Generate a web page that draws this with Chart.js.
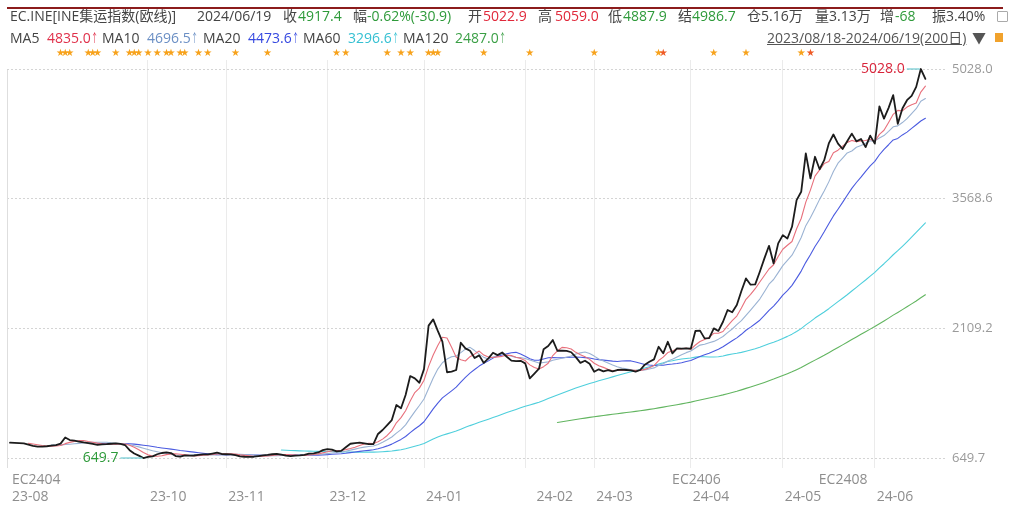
<!DOCTYPE html>
<html>
<head>
<meta charset="utf-8">
<script src="https://cdn.jsdelivr.net/npm/chart.js@4.4.1/dist/chart.umd.min.js"></script>
<style>
  body { margin: 0; background: #fff; }
  #wrap { position: relative; width: 1009px; height: 506px; overflow: hidden;
          font-family: "Open Sans", "Noto Sans CJK SC", sans-serif; }
  #wrap canvas { position: absolute; left: 0; top: 0; }
  .t { position: absolute; white-space: nowrap; font-size: 14px; line-height: 18px; color: #444; }
  .up { display: inline-block; width: 6px; font-size: 12px; transform: scaleX(0.6); transform-origin: 0 50%; }
  .topline { position: absolute; left: 7px; right: 6px; top: 7px; height: 2px; background: #8c1c1c; }
  .range { text-decoration: underline; color: #555; }
  .icon1 { position: absolute; left: 997px; top: 11px; width: 9px; height: 9px; border: 1px solid #aaa; border-radius: 1px; }
  .icon2 { position: absolute; left: 995px; top: 33px; width: 8px; height: 9px; background: #f1a22c; }
</style>
</head>
<body>
<div id="wrap">
  <canvas id="kline" width="1009" height="506"></canvas>
  <div class="topline"></div>
  <div id="hdr"></div>
  <div class="icon1"></div>
  <div class="icon2"></div>
</div>
<script>
// daily closes, 2023/08/18 - 2024/06/19 (200 trading days)
const closes = [
  822, 820, 818, 815, 800, 786, 777, 778, 782, 788,
  795, 812, 880, 852, 845, 835, 825, 818, 808, 798,
  802, 805, 810, 815, 808, 796, 738, 700, 676, 649.7,
  662, 668, 692, 706, 712, 705, 672, 664, 680, 676,
  678, 685, 690, 690, 700, 710, 695, 692, 690, 682,
  668, 664, 663, 664, 672, 680, 684, 692, 696, 688,
  676, 672, 676, 680, 686, 700, 702, 712, 738, 750,
  745, 725, 730, 770, 810, 818, 822, 815, 805, 806,
  920, 965, 1021, 1077, 1246, 1209, 1358, 1572, 1546, 1497,
  1650, 2140, 2210, 2080, 1960, 1615, 1621, 1640, 1947, 1884,
  1857, 1775, 1805, 1720, 1771, 1834, 1808, 1837, 1789, 1745,
  1740, 1744, 1715, 1546, 1600, 1655, 1873, 1910, 1977, 1857,
  1857, 1855, 1840, 1785, 1720, 1745, 1710, 1621, 1648, 1625,
  1640, 1625, 1640, 1645, 1640, 1635, 1621, 1640, 1700, 1733,
  1760, 1902, 1828, 1958, 1828, 1884, 1880, 1884, 1880, 2079,
  2083, 1996, 2000, 2109, 2080, 2183, 2315, 2290, 2371, 2530,
  2671, 2600, 2604, 2746, 2897, 3038, 2840, 3065, 3158, 3120,
  3252, 3552, 3646, 4078, 3796, 4040, 3900, 4002, 4190, 4291,
  4188, 4128, 4214, 4301, 4214, 4240, 4149, 4278, 4188, 4607,
  4470, 4591, 4734, 4411, 4584, 4676.6, 4726, 4827, 5028, 4917.4
];

const maPeriods = [5, 10, 20, 60, 120];
const maColors = ['#e8707c', '#9bb3d3', '#4b5be0', '#4fcfdc', '#62b560'];
const maTextColors = ['#e0304a', '#6b8fc4', '#3548e0', '#35c0d2', '#3a9f45'];

// first trading day of each month, and where its label sits
const monthStart = [0, 30, 47, 69, 90, 112, 127, 148, 168, 188];
const monthLabelDay = [0, 30, 47, 69, 90, 114, 127, 148, 168, 188];
const monthLabels = ['23-08', '23-10', '23-11', '23-12', '24-01', '24-02', '24-03', '24-04', '24-05', '24-06'];

const contractNames = ['EC2404', 'EC2406', 'EC2408'];
const contractDays = [0, 143.5, 175.4];

const priceTicks = [649.7, 2109.2, 3568.6, 5028.0];

// event markers above the plot
const starDays = [11, 12, 13, 17, 18, 19, 23, 26, 27, 28, 30, 32, 34, 35, 37, 38, 41, 43,
                  49, 56, 71, 73, 82, 85, 87, 91, 92, 93, 103, 113, 127, 141, 142, 153, 160, 172, 174];
const flagDays = [142, 174];

function movingAverage(values, n) {
  return values.map((v, i) => {
    if (i < n - 1) return null;
    let s = 0;
    for (let k = i - n + 1; k <= i; k++) s += values[k];
    return s / n;
  });
}

const days = closes.map((_, i) => i);
const maSeries = maPeriods.map(n => movingAverage(closes, n));
const last = a => a[a.length - 1];

// ---- header text ----
const GRAY = '#444', GREEN = '#2e9a3a', RED = '#e0283a';
const hdrItems = [
  ['EC.INE[INE集运指数(欧线)]', 10, 7, GRAY],
  ['2024/06/19', 197, 7, GRAY],
  ['收', 283, 7, GRAY], [last(closes).toFixed(1), 298, 7, GREEN],
  ['幅', 353, 7, GRAY], ['-0.62%(-30.9)', 367, 7, GREEN],
  ['开', 468, 7, GRAY], ['5022.9', 483, 7, RED],
  ['高', 538, 7, GRAY], ['5059.0', 555, 7, RED],
  ['低', 608, 7, GRAY], ['4887.9', 623, 7, GREEN],
  ['结', 678, 7, GRAY], ['4986.7', 692, 7, GREEN],
  ['仓5.16万', 747, 7, GRAY],
  ['量3.13万', 815, 7, GRAY],
  ['增', 880, 7, GRAY], ['-68', 895, 7, GREEN],
  ['振3.40%', 932, 7, GRAY],
  ['▼', 972, 28.5, '#555']
];
const maX = [[10, 47], [102, 147], [203, 248], [303, 348], [403, 455]];
maPeriods.forEach((n, k) => {
  hdrItems.push(['MA' + n, maX[k][0], 28.5, GRAY]);
  hdrItems.push([last(maSeries[k]).toFixed(1), maX[k][1], 28.5, maTextColors[k], true]);
});

const hdr = document.getElementById('hdr');
hdrItems.forEach(([text, x, y, color, rising]) => {
  const s = document.createElement('div');
  s.className = 't';
  s.textContent = text;
  if (rising) {
    const a = document.createElement('span');
    a.className = 'up';
    a.textContent = '↑';
    s.appendChild(a);
  }
  s.style.left = x + 'px';
  s.style.top = y + 'px';
  s.style.color = color;
  hdr.appendChild(s);
});
const range = document.createElement('div');
range.className = 't range';
range.textContent = '2023/08/18-2024/06/19(200日)';
range.style.left = '767px';
range.style.top = '28.5px';
hdr.appendChild(range);

// ---- chart ----
const datasets = [{
  label: '收',
  data: closes,
  borderColor: '#1c1c1c',
  borderWidth: 1.8
}].concat(maPeriods.map((n, k) => ({
  label: 'MA' + n,
  data: maSeries[k],
  borderColor: maColors[k],
  borderWidth: 1.1
})));

const marks = {
  id: 'marks',
  beforeDatasetsDraw(chart) {
    const {ctx, chartArea: a} = chart;
    ctx.save();
    ctx.strokeStyle = '#dedede';
    ctx.lineWidth = 1;
    ctx.beginPath();
    ctx.moveTo(a.left + 0.5, a.top + 10);
    ctx.lineTo(a.left + 0.5, a.bottom);
    ctx.stroke();
    ctx.restore();
  },
  afterDatasetsDraw(chart) {
    const {ctx, scales: {x, y}} = chart;
    ctx.save();
    ctx.font = '10px "DejaVu Sans"';
    ctx.textAlign = 'center';
    ctx.textBaseline = 'middle';
    starDays.forEach(d => {
      ctx.fillStyle = flagDays.includes(d) ? '#ee5a26' : '#f7a21b';
      ctx.fillText('★', x.getPixelForValue(d), 53);
    });

    // highest and lowest close
    const hi = closes.indexOf(Math.max(...closes));
    const lo = closes.indexOf(Math.min(...closes));
    ctx.font = '14px "Open Sans"';
    ctx.textAlign = 'right';
    ctx.lineWidth = 1.2;
    ctx.strokeStyle = '#6cc9d1';

    let px = x.getPixelForValue(hi), py = y.getPixelForValue(closes[hi]);
    ctx.fillStyle = '#d8243a';
    ctx.fillText(closes[hi].toFixed(1), px - 16, py);
    ctx.beginPath(); ctx.moveTo(px - 14, py); ctx.lineTo(px - 1, py); ctx.stroke();

    px = x.getPixelForValue(lo); py = y.getPixelForValue(closes[lo]);
    ctx.fillStyle = '#2e9a3a';
    ctx.fillText(closes[lo].toFixed(1), px - 25, py);
    ctx.beginPath(); ctx.moveTo(px - 23, py); ctx.lineTo(px - 1, py); ctx.stroke();
    ctx.restore();
  }
};

new Chart(document.getElementById('kline'), {
  type: 'line',
  data: { labels: days, datasets: datasets },
  options: {
    responsive: false,
    animation: false,
    devicePixelRatio: 1,
    layout: { padding: { left: 7, right: 13, top: 60, bottom: 0 } },
    elements: {
      point: { radius: 0 },
      line: { tension: 0, borderCapStyle: 'round', borderJoinStyle: 'round' }
    },
    plugins: { legend: { display: false }, tooltip: { enabled: false } },
    scales: {
      x: {
        type: 'linear',
        min: -0.652,
        max: 203.26,
        afterBuildTicks: scale => {
          const map = new Map();
          const at = v => {
            if (!map.has(v)) map.set(v, { value: v, top: '', bottom: '', grid: false });
            return map.get(v);
          };
          monthStart.forEach(d => { if (d > 0) at(d).grid = true; });
          monthLabelDay.forEach((d, k) => { at(d).bottom = monthLabels[k]; });
          contractDays.forEach((d, k) => { at(d).top = contractNames[k]; });
          scale.ticks = [...map.values()].sort((a, b) => a.value - b.value);
        },
        afterFit: scale => { scale.height = 38; },
        ticks: {
          autoSkip: false,
          maxRotation: 0,
          minRotation: 0,
          align: 'start',
          labelOffset: 2,
          padding: 4,
          color: '#8e8e8e',
          font: { family: '"Open Sans"', size: 14, lineHeight: 1.2 },
          callback: (v, i, ticks) => [ticks[i].top, ticks[i].bottom]
        },
        grid: {
          drawTicks: false,
          color: ctx => (ctx.tick && ctx.tick.grid ? '#ebebeb' : 'rgba(0,0,0,0)')
        },
        border: { display: false }
      },
      y: {
        position: 'right',
        min: 537.2,
        max: 5129.3,
        afterBuildTicks: scale => {
          scale.ticks = priceTicks.map(v => ({ value: v }));
        },
        afterFit: scale => { scale.width = 51; },
        ticks: {
          padding: 7,
          color: '#9a9a9a',
          font: { family: '"Open Sans"', size: 13 },
          callback: v => v.toFixed(1)
        },
        grid: { drawTicks: false, color: '#d4d4d4' },
        border: { display: false, dash: [2, 2] }
      }
    }
  },
  plugins: [marks]
});
</script>
</body>
</html>
